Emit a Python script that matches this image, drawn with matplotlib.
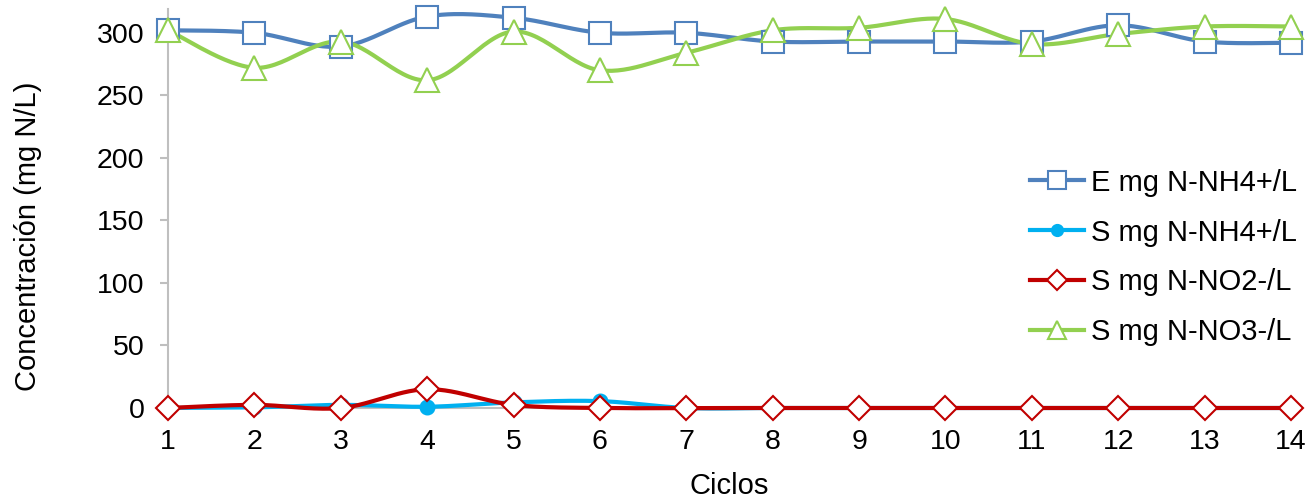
import numpy as np
import matplotlib
matplotlib.use("Agg")
import matplotlib.pyplot as plt

plt.rcParams['font.family'] = ['Liberation Sans', 'DejaVu Sans']

# data
ciclos = list(range(1, 15))
e_nh4 = [302, 300, 289, 313, 312, 300, 300, 293, 293, 293, 293, 306, 293, 292]
s_nh4 = [0, 0.5, 2.5, 1, 4.5, 5.5, 0, 0, 0, 0, 0, 0, 0, 0]
s_no2 = [0, 2.5, 0, 15, 2.5, 0, 0, 0, 0, 0, 0, 0, 0, 0]
s_no3 = [302, 272, 293, 262, 301, 270, 284, 302, 304, 311, 291, 299, 305, 305]

labels = ['E mg N-NH4+/L', 'S mg N-NH4+/L', 'S mg N-NO2-/L', 'S mg N-NO3-/L']


def smooth(x, y, n=30):
    # excel-like smoothed line (cardinal bezier)
    x = np.asarray(x, float)
    y = np.asarray(y, float)
    px = np.concatenate([[x[0]], x, [x[-1]]])
    py = np.concatenate([[y[0]], y, [y[-1]]])
    xs, ys = [], []
    t = np.linspace(0, 1, n)
    for i in range(len(x) - 1):
        p0 = np.array([px[i + 1], py[i + 1]])
        p3 = np.array([px[i + 2], py[i + 2]])
        c1 = p0 + (np.array([px[i + 2], py[i + 2]]) - np.array([px[i], py[i]])) / 6
        c2 = p3 - (np.array([px[i + 3], py[i + 3]]) - np.array([px[i + 1], py[i + 1]])) / 6
        b = ((1 - t) ** 3)[:, None] * p0 + (3 * (1 - t) ** 2 * t)[:, None] * c1 \
            + (3 * (1 - t) * t ** 2)[:, None] * c2 + (t ** 3)[:, None] * p3
        xs.extend(b[:, 0])
        ys.extend(b[:, 1])
    return xs, ys


fig = plt.figure(figsize=(13.1, 4.97), dpi=100)
ax = fig.add_axes([168 / 1310, 1 - 408 / 497, 1123 / 1310, 399 / 497])

styles = [
    (e_nh4, '#4F81BD', 's', 'white', 16),
    (s_nh4, '#00B0F0', 'o', '#00B0F0', 10),
    (s_no2, '#C00000', 'D', 'white', 12.5),
    (s_no3, '#92D050', '^', 'white', 17),
]

handles = []
for (vals, col, mk, fc, ms), lab in zip(styles, labels):
    sx, sy = smooth(ciclos, vals)
    ax.plot(sx, sy, color=col, lw=3, zorder=3, clip_on=False)
    ax.plot(ciclos, vals, ls='none', marker=mk, ms=ms, mfc=fc, mec=col,
            mew=1.5, zorder=4, clip_on=False)
    h, = ax.plot([], [], color=col, lw=3, marker=mk, ms=ms * 0.8,
                 mfc=fc, mec=col, mew=1.5)
    handles.append(h)

ax.set_xlim(1, 14)
ax.set_ylim(0, 319)
ax.set_xticks(ciclos)
ax.set_yticks(range(0, 301, 50))

for s in ['top', 'right']:
    ax.spines[s].set_visible(False)
for s in ['left', 'bottom']:
    ax.spines[s].set_color('#BFBFBF')
    ax.spines[s].set_linewidth(1.5)

ax.tick_params(axis='y', direction='out', length=6, width=1.5, color='#BFBFBF',
               labelsize=20.5, pad=11)
ax.tick_params(axis='x', direction='inout', length=10, width=1.5, color='#BFBFBF',
               labelsize=20.5, pad=10)

ax.set_ylabel('Concentración (mg N/L)', fontsize=21)
ax.yaxis.set_label_coords(-0.112, 0.43)
ax.set_xlabel('Ciclos', fontsize=21, labelpad=12)

fig.legend(handles, labels, loc='center left', bbox_to_anchor=(1030 / 1310, 0.482),
           frameon=False, fontsize=21, handlelength=1.85, handletextpad=0.25,
           labelspacing=0.75, borderaxespad=0, borderpad=0)

fig.savefig('out.png', dpi=100)
